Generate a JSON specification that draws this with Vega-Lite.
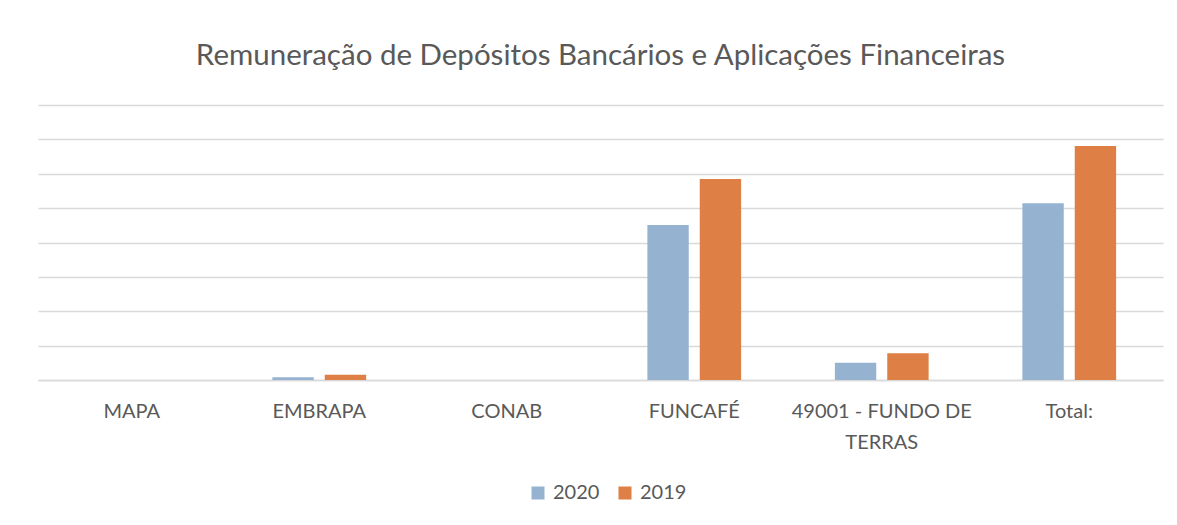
{
  "$schema": "https://vega.github.io/schema/vega-lite/v6.json",
  "autosize": {"type": "none"},
  "width": 1125,
  "height": 275,
  "padding": {"left": 38, "top": 105, "right": 14, "bottom": 145},
  "background": "white",
  "title": {
    "text": "Remuneração de Depósitos Bancários e Aplicações Financeiras",
    "anchor": "middle",
    "font": "Lato",
    "fontSize": 29.5,
    "fontWeight": "normal",
    "color": "#595959",
    "baseline": "alphabetic",
    "offset": 11
  },
  "data": {
    "values": [
      {"orgao": "MAPA", "ano": "2020", "valor": 0},
      {"orgao": "MAPA", "ano": "2019", "valor": 0},
      {"orgao": "EMBRAPA", "ano": "2020", "valor": 0.08},
      {"orgao": "EMBRAPA", "ano": "2019", "valor": 0.15},
      {"orgao": "CONAB", "ano": "2020", "valor": 0},
      {"orgao": "CONAB", "ano": "2019", "valor": 0},
      {"orgao": "FUNCAFÉ", "ano": "2020", "valor": 4.51},
      {"orgao": "FUNCAFÉ", "ano": "2019", "valor": 5.85},
      {"orgao": "49001 - FUNDO DE TERRAS", "ano": "2020", "valor": 0.5},
      {"orgao": "49001 - FUNDO DE TERRAS", "ano": "2019", "valor": 0.78},
      {"orgao": "Total:", "ano": "2020", "valor": 5.14},
      {"orgao": "Total:", "ano": "2019", "valor": 6.81}
    ]
  },
  "mark": {"type": "bar"},
  "encoding": {
    "x": {
      "field": "orgao",
      "type": "nominal",
      "sort": null,
      "scale": {"paddingInner": 0.5, "paddingOuter": 0.25},
      "axis": {
        "title": null,
        "labelAngle": 0,
        "ticks": false,
        "labelPadding": 21,
        "labelFont": "Lato",
        "labelFontSize": 20,
        "labelColor": "#595959",
        "labelLineHeight": 31,
        "labelLimit": 300,
        "labelExpr": "datum.label == '49001 - FUNDO DE TERRAS' ? ['49001 - FUNDO DE', 'TERRAS'] : datum.label",
        "domainColor": "#d9d9d9",
        "domainWidth": 1.5,
        "grid": false
      }
    },
    "xOffset": {
      "field": "ano",
      "type": "nominal",
      "sort": ["2020", "2019"],
      "scale": {"paddingInner": 0.21, "paddingOuter": 0}
    },
    "y": {
      "field": "valor",
      "type": "quantitative",
      "scale": {"domain": [0, 8], "nice": false},
      "axis": {
        "title": null,
        "labels": false,
        "ticks": false,
        "domain": false,
        "tickCount": 8,
        "grid": true,
        "gridColor": "#d9d9d9",
        "gridWidth": 1.5
      }
    },
    "color": {
      "field": "ano",
      "type": "nominal",
      "sort": ["2020", "2019"],
      "scale": {"domain": ["2020", "2019"], "range": ["#95B3D1", "#DE7F45"]},
      "legend": {
        "title": null,
        "orient": "none",
        "direction": "horizontal",
        "legendX": 490,
        "legendY": 378,
        "symbolType": "square",
        "symbolSize": 169,
        "symbolStrokeWidth": 0,
        "labelFont": "Lato",
        "labelFontSize": 20,
        "labelColor": "#595959",
        "labelOffset": 5,
        "columnPadding": 15
      }
    }
  },
  "config": {
    "view": {"stroke": null},
    "axis": {"labelFont": "Lato"}
  }
}
